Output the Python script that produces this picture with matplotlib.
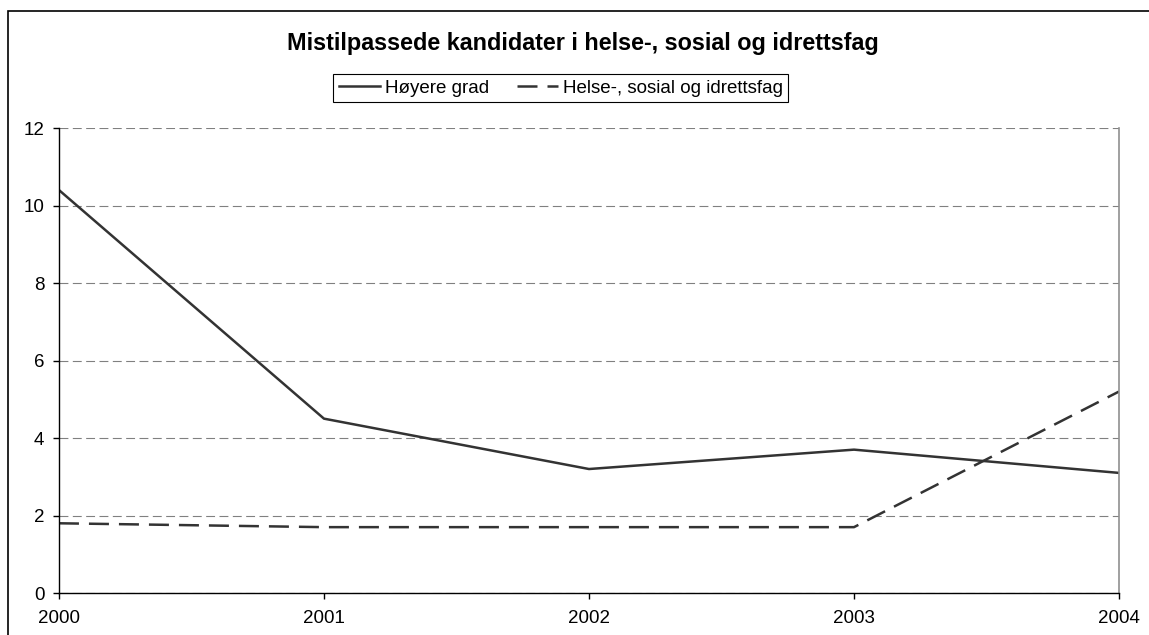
import matplotlib.pyplot as plt
from matplotlib.patches import Rectangle

plt.rcParams['font.family'] = ['Liberation Sans', 'DejaVu Sans']

years = [2000, 2001, 2002, 2003, 2004]
hoyere_grad = [10.4, 4.5, 3.2, 3.7, 3.1]
helse_sosial = [1.8, 1.7, 1.7, 1.7, 5.2]

title = "Mistilpassede kandidater i helse-, sosial og idrettsfag"
label_a = "Høyere grad"
label_b = "Helse-, sosial og idrettsfag"

fig = plt.figure(figsize=(11.49, 6.35), dpi=100)
ax = fig.add_axes([0.0513, 0.0661, 0.9226, 0.7323])

line_col = "#333333"
ax.plot(years, hoyere_grad, color=line_col, lw=1.8, label=label_a)
ax.plot(years, helse_sosial, color=line_col, lw=1.8, dashes=(8, 4), label=label_b)

ax.set_xlim(2000, 2004)
ax.set_ylim(0, 12)
ax.set_xticks(years)
ax.set_yticks(range(0, 13, 2))
ax.tick_params(labelsize=13.5, length=4.5, width=1, direction='out', colors='black')
ax.tick_params(axis='x', pad=8)
ax.tick_params(axis='y', pad=6)

ax.yaxis.grid(True, color='#808080', linestyle=(0, (8, 4)), lw=0.8)
ax.set_axisbelow(True)
ax.spines['top'].set_visible(False)
ax.spines['right'].set_color('#909090')
ax.spines['right'].set_linewidth(1.2)
ax.spines['left'].set_linewidth(1)
ax.spines['bottom'].set_linewidth(1)

fig.text(0.507, 0.932, title, ha='center', va='center', fontsize=16.8, fontweight='bold')

leg = fig.legend(loc='center', bbox_to_anchor=(0.488, 0.861), ncol=2, fontsize=13.5,
                 frameon=True, fancybox=False, edgecolor='black', framealpha=1,
                 handlelength=2.2, columnspacing=1.5, handletextpad=0.25,
                 borderpad=0.3)
leg.get_frame().set_linewidth(0.8)

# outer chart border (runs off the right and bottom edges)
fig.patches.append(Rectangle((8 / 1149, -0.05), 1.1, 1.05 - 11 / 635,
                             transform=fig.transFigure, fill=False,
                             edgecolor='black', lw=1.2))

fig.savefig("out.png", dpi=100)
